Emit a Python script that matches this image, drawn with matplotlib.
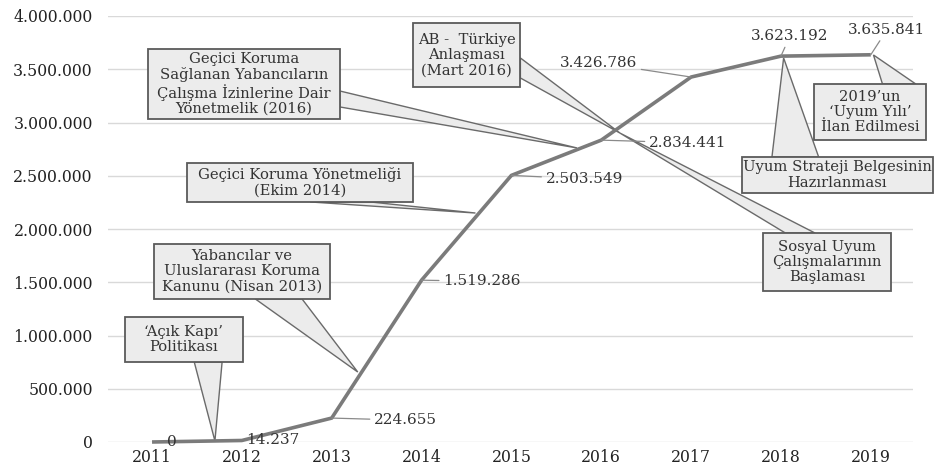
import matplotlib.pyplot as plt
from matplotlib.patches import Rectangle, Polygon

plt.rcParams['font.family'] = ['DejaVu Serif']

# data
years = ["2011", "2012", "2013", "2014", "2015", "2016", "2017", "2018", "2019"]
counts = [0, 14237, 224655, 1519286, 2503549, 2834441, 3426786, 3623192, 3635841]
yticks = [0, 500000, 1000000, 1500000, 2000000, 2500000, 3000000, 3500000, 4000000]


def dotted(v):
    return f"{v:,}".replace(",", ".")


# label placement: (text x, text y, ha, leader?)
label_pos = [
    (0.22, 0, "center", False),
    (1.05, 20000, "left", False),
    (2.47, 205000, "left", True),
    (3.24, 1510000, "left", True),
    (4.38, 2470000, "left", True),
    (5.53, 2810000, "left", True),
    (5.40, 3560000, "right", True),
    (7.10, 3810000, "center", True),
    (8.18, 3870000, "center", True),
]

# callouts: text, box (x0, x1, ytop, ybottom), wedge base points, tip
callouts = [
    ("\u2018Açık Kapı\u2019\nPolitikası",
     (-0.30, 1.01, 1174000, 751000), [(0.47, 751000), (0.78, 751000)], (0.70, 10000)),
    ("Yabancılar ve\nUluslararası Koruma\nKanunu (Nisan 2013)",
     (0.02, 1.98, 1859000, 1343000), [(1.15, 1343000), (1.67, 1343000)], (2.29, 657000)),
    ("Geçici Koruma Yönetmeliği\n(Ekim 2014)",
     (0.39, 2.90, 2620000, 2254000), [(1.76, 2254000), (2.43, 2254000)], (3.60, 2150000)),
    ("Geçici Koruma\nSağlanan Yabancıların\nÇalışma İzinlerine Dair\nYönetmelik (2016)",
     (-0.04, 2.09, 3690000, 3033000), [(2.09, 3296000), (2.09, 3146000)], (4.73, 2761000)),
    ("AB -  Türkiye\nAnlaşması\n(Mart 2016)",
     (2.90, 4.10, 3934000, 3333000), [(4.10, 3606000), (4.10, 3418000)], (5.21, 2900000)),
    ("Sosyal Uyum\nÇalışmalarının\nBaşlaması",
     (6.80, 8.23, 1962000, 1418000), [(7.05, 1962000), (7.38, 1962000)], (5.21, 2900000)),
    ("Uyum Strateji Belgesinin\nHazırlanması",
     (6.57, 8.69, 2676000, 2338000), [(6.90, 2676000), (7.42, 2676000)], (7.03, 3606000)),
    ("2019\u2019un\n\u2018Uyum Yılı\u2019\nİlan Edilmesi",
     (7.37, 8.61, 3362000, 2836000), [(8.13, 3362000), (8.50, 3362000)], (8.03, 3634000)),
]

fig = plt.figure(figsize=(9.34, 4.68), dpi=100)
ax = fig.add_axes([108 / 934, 26 / 468, 805 / 934, 426 / 468])

x = list(range(len(years)))
ax.plot(x, counts, color="#7b7b7b", lw=2.6, solid_capstyle="butt", zorder=5, clip_on=False)

for (tx, ty, ha, leader), v, xi in zip(label_pos, counts, x):
    if leader:
        ax.annotate(dotted(v), xy=(xi, v), xytext=(tx, ty), ha=ha, va="center",
                    fontsize=11, color="#333333", zorder=6,
                    arrowprops=dict(arrowstyle="-", color="#8a8a8a", lw=0.9,
                                    shrinkA=1, shrinkB=0))
    else:
        ax.text(tx, ty, dotted(v), ha=ha, va="center", fontsize=11,
                color="#333333", zorder=6)

for txt, (x0, x1, yt, yb), base, tip in callouts:
    wedge = Polygon([base[0], tip, base[1]], closed=True, facecolor="#ececec",
                    edgecolor="#6a6a6a", lw=1.0, zorder=3, clip_on=False)
    ax.add_patch(wedge)
    box = Rectangle((x0, yb), x1 - x0, yt - yb, facecolor="#ececec",
                    edgecolor="#5a5a5a", lw=1.3, zorder=4, clip_on=False)
    ax.add_patch(box)
    ax.text((x0 + x1) / 2, (yt + yb) / 2, txt, ha="center", va="center",
            fontsize=10.6, color="#333333", linespacing=1.12, zorder=4.5,
            multialignment="center")

ax.set_xlim(-0.49, 8.47)
ax.set_ylim(0, 4000000)
ax.set_xticks(x)
ax.set_xticklabels(years)
ax.set_yticks(yticks)
ax.set_yticklabels([dotted(v) for v in yticks])
ax.tick_params(axis="both", length=0, labelsize=11.3, labelcolor="#222222")
ax.tick_params(axis="y", pad=11)
ax.tick_params(axis="x", pad=5)
ax.grid(axis="y", color="#d9d9d9", lw=1.0)
ax.set_axisbelow(True)
for s in ax.spines.values():
    s.set_visible(False)

fig.savefig("out.png", dpi=100)
